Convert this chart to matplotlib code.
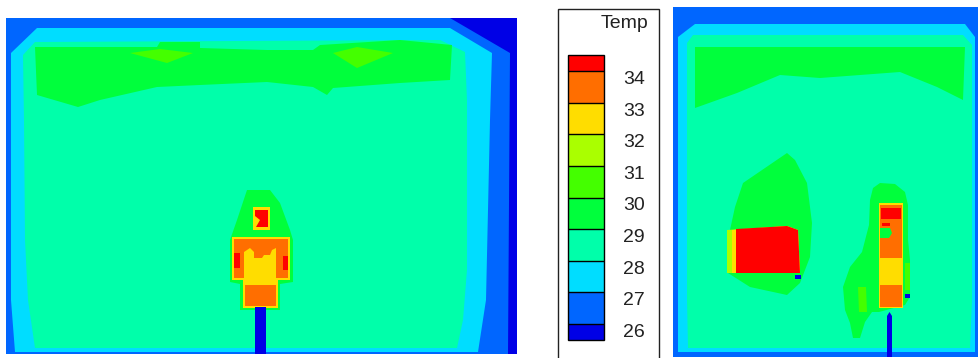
import matplotlib.pyplot as plt
import matplotlib.transforms as mtransforms
from matplotlib.colors import ListedColormap, BoundaryNorm
from matplotlib.cm import ScalarMappable
from matplotlib.patches import Polygon, Rectangle

plt.rcParams['font.family'] = ['Liberation Sans', 'DejaVu Sans']

# ---- legend ----
levels = [26, 27, 28, 29, 30, 31, 32, 33, 34]
band_colors = ['#0066ff', '#00ddff', '#00ffaa', '#00ff3c',
               '#44ff00', '#aaff00', '#ffdd00', '#ff6e00']
under_color = '#0000e6'
over_color = '#ff0000'

# temperature given to each contour region
T_LOW, T_WALL, T_COOL, T_ROOM, T_WARM = 25.5, 26.5, 27.5, 28.5, 29.5
T_WARM2, T_MILD, T_HOT, T_HOTTER, T_MAX = 30.5, 31.5, 32.5, 33.5, 34.5

# ---- left section (image pixel coordinates) ----
left_extent = (6, 18, 517, 354)
left_wall = [(6, 18), (517, 18), (517, 354), (6, 354)]
left_corner = [(450, 18), (517, 18), (517, 354), (508, 354), (510, 53)]
left_cool = [(37, 28), (450, 28), (492, 53), (490, 120), (486, 300), (478, 352),
             (15, 352), (11, 300), (11, 53)]
left_room = [(35, 42), (440, 40), (465, 52), (467, 100), (467, 270), (463, 320),
             (457, 348), (35, 348), (28, 300), (25, 240), (24, 120), (23, 55)]
left_ceiling = [(35, 47), (157, 47), (160, 42), (200, 42), (200, 48), (267, 50),
                (313, 50), (320, 45), (400, 40), (452, 45), (450, 80), (400, 83),
                (333, 88), (327, 95), (313, 87), (267, 82), (200, 85), (157, 87),
                (100, 100), (78, 107), (37, 95)]
left_spot1 = [(130, 53), (160, 49), (193, 53), (167, 63)]
left_spot2 = [(333, 53), (357, 47), (393, 53), (357, 68)]
left_halo = [(247, 190), (270, 190), (280, 203), (290, 230), (293, 240), (293, 282),
             (280, 284), (280, 310), (240, 310), (240, 284), (230, 282), (230, 240),
             (237, 220)]
left_body_edge = [(232, 237), (290, 237), (290, 280), (278, 280), (278, 308),
                  (243, 308), (243, 280), (232, 280)]
left_body = [(234, 239), (288, 239), (288, 278), (276, 278), (276, 306),
             (245, 306), (245, 278), (234, 278)]
left_chest = [(244, 252), (250, 248), (254, 252), (254, 258), (262, 258), (264, 255),
              (270, 255), (272, 250), (276, 248), (276, 285), (244, 285)]
left_arm1 = [(234, 253), (240, 253), (240, 268), (234, 268)]
left_arm2 = [(283, 256), (288, 256), (288, 270), (283, 270)]
left_head_edge = [(253, 207), (270, 207), (270, 230), (253, 230)]
left_head = [(255, 210), (268, 210), (268, 227), (256, 227), (260, 220), (255, 216)]
left_stand = [(255, 307), (266, 307), (266, 354), (255, 354)]

# ---- right section ----
right_extent = (673, 7, 979, 357)
right_wall = [(673, 7), (979, 7), (979, 357), (673, 357)]
right_cool = [(695, 24), (965, 24), (975, 37), (975, 352), (678, 352), (678, 37)]
right_room = [(693, 35), (963, 35), (972, 45), (972, 300), (970, 348), (688, 348),
              (687, 300), (687, 43)]
right_ceiling = [(695, 47), (965, 47), (963, 100), (937, 87), (900, 72), (820, 78),
                 (780, 75), (737, 93), (695, 108)]
box_halo = [(787, 153), (795, 160), (807, 183), (812, 223), (810, 257), (800, 283),
            (787, 295), (750, 287), (728, 273), (730, 230), (735, 207), (743, 183)]
box_edge = [(727, 230), (787, 226), (798, 230), (800, 273), (727, 273)]
box_yellow = [(732, 230), (787, 226), (798, 230), (800, 273), (732, 273)]
box_body = [(736, 229), (787, 226), (798, 230), (800, 273), (736, 273)]
box_vent = [(795, 275), (801, 275), (801, 279), (795, 279)]
col_halo = [(880, 183), (895, 184), (905, 192), (908, 205), (908, 240), (910, 260),
            (910, 297), (905, 305), (879, 312), (872, 312), (865, 322), (860, 338),
            (853, 338), (850, 323), (845, 310), (843, 287), (850, 267), (862, 252),
            (869, 225), (870, 200), (873, 188)]
col_side1 = [(905, 263), (910, 263), (910, 290), (905, 290)]
col_side2 = [(858, 287), (866, 287), (867, 312), (859, 312)]
col_edge = [(879, 203), (903, 203), (903, 308), (879, 308)]
col_body = [(880, 205), (902, 205), (902, 307), (880, 307)]
col_top = [(881, 208), (901, 208), (901, 219), (881, 219)]
col_mid = [(880, 258), (902, 258), (902, 285), (880, 285)]
col_notch = [(880, 228), (890, 228), (892, 233), (889, 238), (880, 238)]
col_streak = [(882, 223), (890, 223), (890, 226), (882, 226)]
col_vent = [(905, 294), (910, 294), (910, 298), (905, 298)]
col_stand = [(887, 316), (889.5, 312), (892, 316), (892, 357), (887, 357)]

left_regions = [(left_wall, T_WALL), (left_corner, T_LOW), (left_cool, T_COOL),
                (left_room, T_ROOM), (left_ceiling, T_WARM), (left_spot1, T_WARM2),
                (left_spot2, T_WARM2), (left_halo, T_WARM), (left_body_edge, T_HOT),
                (left_body, T_HOTTER), (left_chest, T_HOT), (left_arm1, T_MAX),
                (left_arm2, T_MAX), (left_head_edge, T_HOT), (left_head, T_MAX),
                (left_stand, T_LOW)]
right_regions = [(right_wall, T_WALL), (right_cool, T_COOL), (right_room, T_ROOM),
                 (right_ceiling, T_WARM), (box_halo, T_WARM), (box_edge, T_MILD),
                 (box_yellow, T_HOT), (box_body, T_MAX), (box_vent, T_LOW),
                 (col_halo, T_WARM), (col_side1, T_WARM2), (col_side2, T_WARM2),
                 (col_edge, T_HOT), (col_body, T_HOTTER), (col_top, T_MAX),
                 (col_mid, T_HOT), (col_notch, T_WARM), (col_streak, T_MAX),
                 (col_vent, T_LOW), (col_stand, T_LOW)]

W, H = 979, 358
cmap = ListedColormap(band_colors)
cmap.set_under(under_color)
cmap.set_over(over_color)
norm = BoundaryNorm(levels, cmap.N)

fig = plt.figure(figsize=(W / 100, H / 100), dpi=100)


def px_axes(x0, y0, x1, y1):
    return fig.add_axes([x0 / W, 1 - y1 / H, (x1 - x0) / W, (y1 - y0) / H])


def draw_section(extent, regions):
    ax = px_axes(*extent)
    for verts, t in regions:
        ax.add_patch(Polygon(verts, closed=True, facecolor=cmap(norm(t)),
                             edgecolor='none'))
    ax.set_xlim(extent[0], extent[2])
    ax.set_ylim(extent[3], extent[1])
    ax.axis('off')
    return ax


draw_section(left_extent, left_regions)
draw_section(right_extent, right_regions)

# legend frame
fig.patches.append(Rectangle((558 / W, -0.05), (659 - 558) / W, 1 - 9 / H + 0.05,
                             transform=fig.transFigure, facecolor='none',
                             edgecolor='#222222', linewidth=1.0, zorder=-1))
fig.text(648 / W, 1 - 23 / H, 'Temp', ha='right', va='center', fontsize=14,
         color='#222222')

cax = px_axes(568, 55, 604, 340)
sm = ScalarMappable(norm=norm, cmap=cmap)
cb = fig.colorbar(sm, cax=cax, extend='both', extendrect=True,
                  extendfrac=16 / 253, drawedges=True, ticks=levels)
cb.outline.set_edgecolor('black')
cb.outline.set_linewidth(1.0)
cb.dividers.set_color('black')
cb.dividers.set_linewidth(1.0)
cax.tick_params(length=0, pad=14, labelsize=14, labelcolor='#222222')
shift = mtransforms.ScaledTranslation(0, -6.5 / 100, fig.dpi_scale_trans)
for lab in cax.get_yticklabels():
    lab.set_transform(lab.get_transform() + shift)

fig.savefig('out.png', dpi=100)
